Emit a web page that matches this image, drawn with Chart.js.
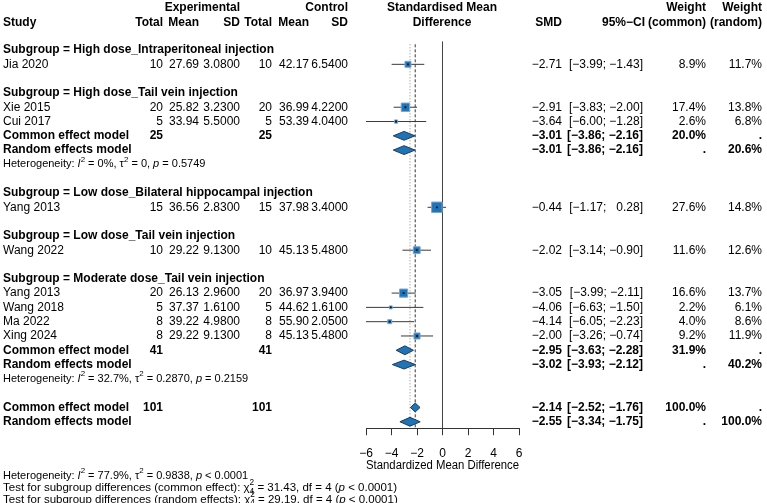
<!DOCTYPE html>
<html>
<head>
<meta charset="utf-8">
<script src="https://cdn.jsdelivr.net/npm/chart.js@4.4.1/dist/chart.umd.min.js"></script>
<style>
body { margin: 0; background: #fff; }
#wrap { width: 767px; height: 503px; }
</style>
</head>
<body>
<div id="wrap"><canvas id="forest" width="767" height="503"></canvas></div>
<script>
// subgroups and studies
const subgroups = ['High dose_Intraperitoneal injection', 'High dose_Tail vein injection',
    'Low dose_Bilateral hippocampal injection', 'Low dose_Tail vein injection',
    'Moderate dose_Tail vein injection'];
const studyGroup = [0, 1, 1, 2, 3, 4, 4, 4, 4];
const studies = ['Jia 2020', 'Xie 2015', 'Cui 2017', 'Yang 2013', 'Wang 2022', 'Yang 2013', 'Wang 2018', 'Ma 2022', 'Xing 2024'];
const expTotal = [10, 20, 5, 15, 10, 20, 5, 8, 8];
const expMean = [27.69, 25.82, 33.94, 36.56, 29.22, 26.13, 37.37, 39.22, 29.22];
const expSD = [3.08, 3.23, 5.5, 2.83, 9.13, 2.96, 1.61, 4.98, 9.13];
const ctrlTotal = [10, 20, 5, 15, 10, 20, 5, 8, 8];
const ctrlMean = [42.17, 36.99, 53.39, 37.98, 45.13, 36.97, 44.62, 55.90, 45.13];
const ctrlSD = [6.54, 4.22, 4.04, 3.40, 5.48, 3.94, 1.61, 2.05, 5.48];
const smd = [-2.71, -2.91, -3.64, -0.44, -2.02, -3.05, -4.06, -4.14, -2.00];
const ciLow = [-3.99, -3.83, -6.00, -1.17, -3.14, -3.99, -6.63, -6.05, -3.26];
const ciHigh = [-1.43, -2.00, -1.28, 0.28, -0.90, -2.11, -1.50, -2.23, -0.74];
const wCommon = [8.9, 17.4, 2.6, 27.6, 11.6, 16.6, 2.2, 4.0, 9.2];
const wRandom = [11.7, 13.8, 6.8, 14.8, 12.6, 13.7, 6.1, 8.6, 11.9];

// pooled results for subgroups with more than one study
const pooledGroups = [1, 4];
const pooledTotal = [25, 41];
const groupCommon = [-3.01, -2.95];
const groupCommonLow = [-3.86, -3.63];
const groupCommonHigh = [-2.16, -2.28];
const groupRandom = [-3.01, -3.02];
const groupRandomLow = [-3.86, -3.93];
const groupRandomHigh = [-2.16, -2.12];
const groupWCommon = [20.0, 31.9];
const groupWRandom = [20.6, 40.2];
const groupI2 = ['0%', '32.7%'];
const groupTau2 = ['0', '0.2870'];
const groupP = ['= 0.5749', '= 0.2159'];

// overall
const overallTotal = 101;
const overallCommon = [-2.14, -2.52, -1.76];
const overallRandom = [-2.55, -3.34, -1.75];
const overallHet = ['77.9%', '0.9838', '< 0.0001'];
const subgroupChi2 = ['31.43', '29.19'];
const subgroupDf = 4;

const xTicks = [-6, -4, -2, 0, 2, 4, 6];

const FONT = '"Liberation Sans", Arial, sans-serif';
const BLUE = '#1f74b8';

function fmt(v, d) {
    return v.toFixed(d).replace('-', '\u2212');
}
function fmtCI(lo, hi) {
    const a = (lo >= 0 ? ' ' : '') + fmt(lo, 2);
    const b = (hi >= 0 ? '  ' : '') + fmt(hi, 2);
    return '[' + a + '; ' + b + ']';
}

// work out which row each line goes on
let r = 0;
const studyRow = [];
const headRow = [];
const pooledRows = [];
subgroups.forEach((g, gi) => {
    headRow.push(r++);
    studies.forEach((s, i) => {
        if (studyGroup[i] === gi) studyRow[i] = r++;
    });
    if (pooledGroups.includes(gi)) {
        pooledRows.push({ common: r, random: r + 1, het: r + 2 });
        r += 3;
    }
    r++;
});
const overallRows = { common: r, random: r + 1 };

const dh = 0.31;
function diamond(est, lo, hi, row) {
    return [
        { x: lo, y: row }, { x: est, y: row - dh }, { x: hi, y: row },
        { x: est, y: row + dh }, { x: lo, y: row }
    ];
}

const datasets = [];

// reference lines
datasets.push({
    data: [{ x: 0, y: -0.58 }, { x: 0, y: 26.45 }],
    showLine: true, pointRadius: 0, borderColor: '#444', borderWidth: 1, order: 5
});
datasets.push({
    data: [{ x: overallCommon[0], y: -0.4 }, { x: overallCommon[0], y: 26.45 }],
    showLine: true, pointRadius: 0, borderColor: '#333', borderWidth: 1, borderDash: [3, 2], order: 5
});
datasets.push({
    data: [{ x: overallRandom[0], y: -0.4 }, { x: overallRandom[0], y: 26.45 }],
    showLine: true, pointRadius: 0, borderColor: '#888', borderWidth: 1, borderDash: [1, 2], order: 5
});

// confidence intervals
studies.forEach((s, i) => {
    datasets.push({
        data: [{ x: ciLow[i], y: studyRow[i] }, { x: ciHigh[i], y: studyRow[i] }],
        showLine: true, pointRadius: 0, borderColor: '#3a3a3a', borderWidth: 1, order: 4
    });
});

// weighted squares
datasets.push({
    data: smd.map((v, i) => ({ x: v, y: studyRow[i] })),
    pointStyle: 'rect',
    pointRadius: wCommon.map(w => 2.0 * Math.sqrt(w) / Math.SQRT2),
    backgroundColor: BLUE, borderColor: '#7aa6cf', borderWidth: 1, order: 2
});
datasets.push({
    data: smd.map((v, i) => ({ x: v, y: studyRow[i] })),
    pointStyle: 'rect', pointRadius: 1.3,
    backgroundColor: '#111', borderWidth: 0, order: 1
});

// diamonds
const diamonds = [];
pooledGroups.forEach((g, k) => {
    diamonds.push(diamond(groupCommon[k], groupCommonLow[k], groupCommonHigh[k], pooledRows[k].common));
    diamonds.push(diamond(groupRandom[k], groupRandomLow[k], groupRandomHigh[k], pooledRows[k].random));
});
diamonds.push(diamond(overallCommon[0], overallCommon[1], overallCommon[2], overallRows.common));
diamonds.push(diamond(overallRandom[0], overallRandom[1], overallRandom[2], overallRows.random));
diamonds.forEach(d => {
    datasets.push({
        data: d, showLine: true, fill: 'shape', pointRadius: 0,
        backgroundColor: BLUE, borderColor: '#1d3b58', borderWidth: 1, order: 2
    });
});

function drawRich(ctx, parts, x, y, size) {
    let cx = x;
    parts.forEach(p => {
        const t = p[0], s = p[1] || '';
        if (s === 'i') {
            ctx.font = 'italic ' + size + 'px ' + FONT;
            ctx.fillText(t, cx, y);
            cx += ctx.measureText(t).width;
        } else if (s === 'sup') {
            ctx.font = (size * 0.72) + 'px ' + FONT;
            ctx.fillText(t, cx, y - size * 0.42);
            cx += ctx.measureText(t).width;
        } else if (s === 'ss') {
            ctx.font = (size * 0.72) + 'px ' + FONT;
            ctx.fillText(t[0], cx, y - size * 0.42);
            ctx.fillText(t[1], cx, y + size * 0.32);
            cx += Math.max(ctx.measureText(t[0]).width, ctx.measureText(t[1]).width);
        } else {
            ctx.font = size + 'px ' + FONT;
            ctx.fillText(t, cx, y);
            cx += ctx.measureText(t).width;
        }
    });
}

const tablePlugin = {
    id: 'forestTable',
    afterDraw(chart) {
        const ctx = chart.ctx;
        const Y = v => chart.scales.y.getPixelForValue(v);
        ctx.save();
        ctx.fillStyle = '#000';
        ctx.textBaseline = 'middle';
        const text = (t, x, y, align, bold, size) => {
            ctx.font = (bold ? 'bold ' : '') + (size || 12) + 'px ' + FONT;
            ctx.textAlign = align;
            ctx.fillText(t, x, y);
        };

        // header
        const h1 = Y(-2.97), h2 = Y(-1.92);
        text('Experimental', 240, h1, 'right', true);
        text('Control', 348, h1, 'right', true);
        text('Standardised Mean', 442, h1, 'center', true);
        text('Weight', 706, h1, 'right', true);
        text('Weight', 762, h1, 'right', true);
        text('Study', 3, h2, 'left', true);
        text('Total', 163, h2, 'right', true);
        text('Mean', 199, h2, 'right', true);
        text('SD', 240, h2, 'right', true);
        text('Total', 272, h2, 'right', true);
        text('Mean', 309, h2, 'right', true);
        text('SD', 348, h2, 'right', true);
        text('Difference', 442, h2, 'center', true);
        text('SMD', 562, h2, 'right', true);
        text('95%\u2212CI', 645, h2, 'right', true);
        text('(common)', 706, h2, 'right', true);
        text('(random)', 762, h2, 'right', true);

        subgroups.forEach((g, gi) => {
            text('Subgroup = ' + g, 3, Y(headRow[gi]), 'left', true);
        });

        studies.forEach((s, i) => {
            const y = Y(studyRow[i]);
            text(s, 3, y, 'left');
            text(String(expTotal[i]), 163, y, 'right');
            text(fmt(expMean[i], 2), 199, y, 'right');
            text(fmt(expSD[i], 4), 240, y, 'right');
            text(String(ctrlTotal[i]), 272, y, 'right');
            text(fmt(ctrlMean[i], 2), 309, y, 'right');
            text(fmt(ctrlSD[i], 4), 348, y, 'right');
            text(fmt(smd[i], 2), 562, y, 'right');
            text(fmtCI(ciLow[i], ciHigh[i]), 643, y, 'right');
            text(fmt(wCommon[i], 1) + '%', 706, y, 'right');
            text(fmt(wRandom[i], 1) + '%', 762, y, 'right');
        });

        const summaryRow = (label, y, total, est, lo, hi, wc, wr) => {
            text(label, 3, y, 'left', true);
            if (total !== null) {
                text(String(total), 163, y, 'right', true);
                text(String(total), 272, y, 'right', true);
            }
            text(fmt(est, 2), 562, y, 'right', true);
            text(fmtCI(lo, hi), 643, y, 'right', true);
            text(wc === null ? '.' : fmt(wc, 1) + '%', 706, y, 'right', true);
            text(wr === null ? '.' : fmt(wr, 1) + '%', 762, y, 'right', true);
        };

        pooledGroups.forEach((g, k) => {
            const pr = pooledRows[k];
            summaryRow('Common effect model', Y(pr.common), pooledTotal[k],
                groupCommon[k], groupCommonLow[k], groupCommonHigh[k], groupWCommon[k], null);
            summaryRow('Random effects model', Y(pr.random), null,
                groupRandom[k], groupRandomLow[k], groupRandomHigh[k], null, groupWRandom[k]);
            ctx.textAlign = 'left';
            drawRich(ctx, [['Heterogeneity: '], ['I', 'i'], ['2', 'sup'], [' = ' + groupI2[k] + ', \u03c4'],
                ['2', 'sup'], [' = ' + groupTau2[k] + ', '], ['p', 'i'], [' ' + groupP[k]]], 3, Y(pr.het), 11);
        });

        summaryRow('Common effect model', Y(overallRows.common), overallTotal,
            overallCommon[0], overallCommon[1], overallCommon[2], 100, null);
        summaryRow('Random effects model', Y(overallRows.random), null,
            overallRandom[0], overallRandom[1], overallRandom[2], null, 100);

        // footer
        ctx.textAlign = 'left';
        drawRich(ctx, [['Heterogeneity: '], ['I', 'i'], ['2', 'sup'], [' = ' + overallHet[0] + ', \u03c4'],
            ['2', 'sup'], [' = ' + overallHet[1] + ', '], ['p', 'i'], [' ' + overallHet[2]]], 3, 475.5, 11);
        drawRich(ctx, [['Test for subgroup differences (common effect): \u03c7'], [['2', String(subgroupDf)], 'ss'],
            [' = ' + subgroupChi2[0] + ', df = ' + subgroupDf + ' ('], ['p', 'i'], [' < 0.0001)']], 3, 488, 11.5);
        drawRich(ctx, [['Test for subgroup differences (random effects): \u03c7'], [['2', String(subgroupDf)], 'ss'],
            [' = ' + subgroupChi2[1] + ', df = ' + subgroupDf + ' ('], ['p', 'i'], [' < 0.0001)']], 3, 499.5, 11.5);
        ctx.restore();
    }
};

Chart.defaults.font.family = FONT;
Chart.defaults.color = '#000';

new Chart(document.getElementById('forest'), {
    type: 'scatter',
    data: { datasets: datasets },
    options: {
        responsive: false,
        animation: false,
        events: [],
        layout: { autoPadding: false, padding: { left: 366, right: 248, top: 0, bottom: 29 } },
        plugins: { legend: { display: false }, tooltip: { enabled: false } },
        scales: {
            x: {
                type: 'linear', min: -6, max: 6,
                afterBuildTicks: axis => { axis.ticks = xTicks.map(v => ({ value: v })); },
                ticks: {
                    padding: 11, color: '#000', font: { size: 12 },
                    callback: v => fmt(v, 0)
                },
                grid: { drawOnChartArea: false, drawTicks: true, tickLength: 7, color: '#333' },
                border: { display: true, color: '#333', width: 1 },
                title: {
                    display: true, text: 'Standardized Mean Difference', color: '#000',
                    font: { size: 12 }, padding: { top: -13, bottom: 1 }
                }
            },
            y: {
                type: 'linear', min: -3.5, max: 26.45, reverse: true, display: false
            }
        }
    },
    plugins: [tablePlugin]
});
</script>
</body>
</html>
